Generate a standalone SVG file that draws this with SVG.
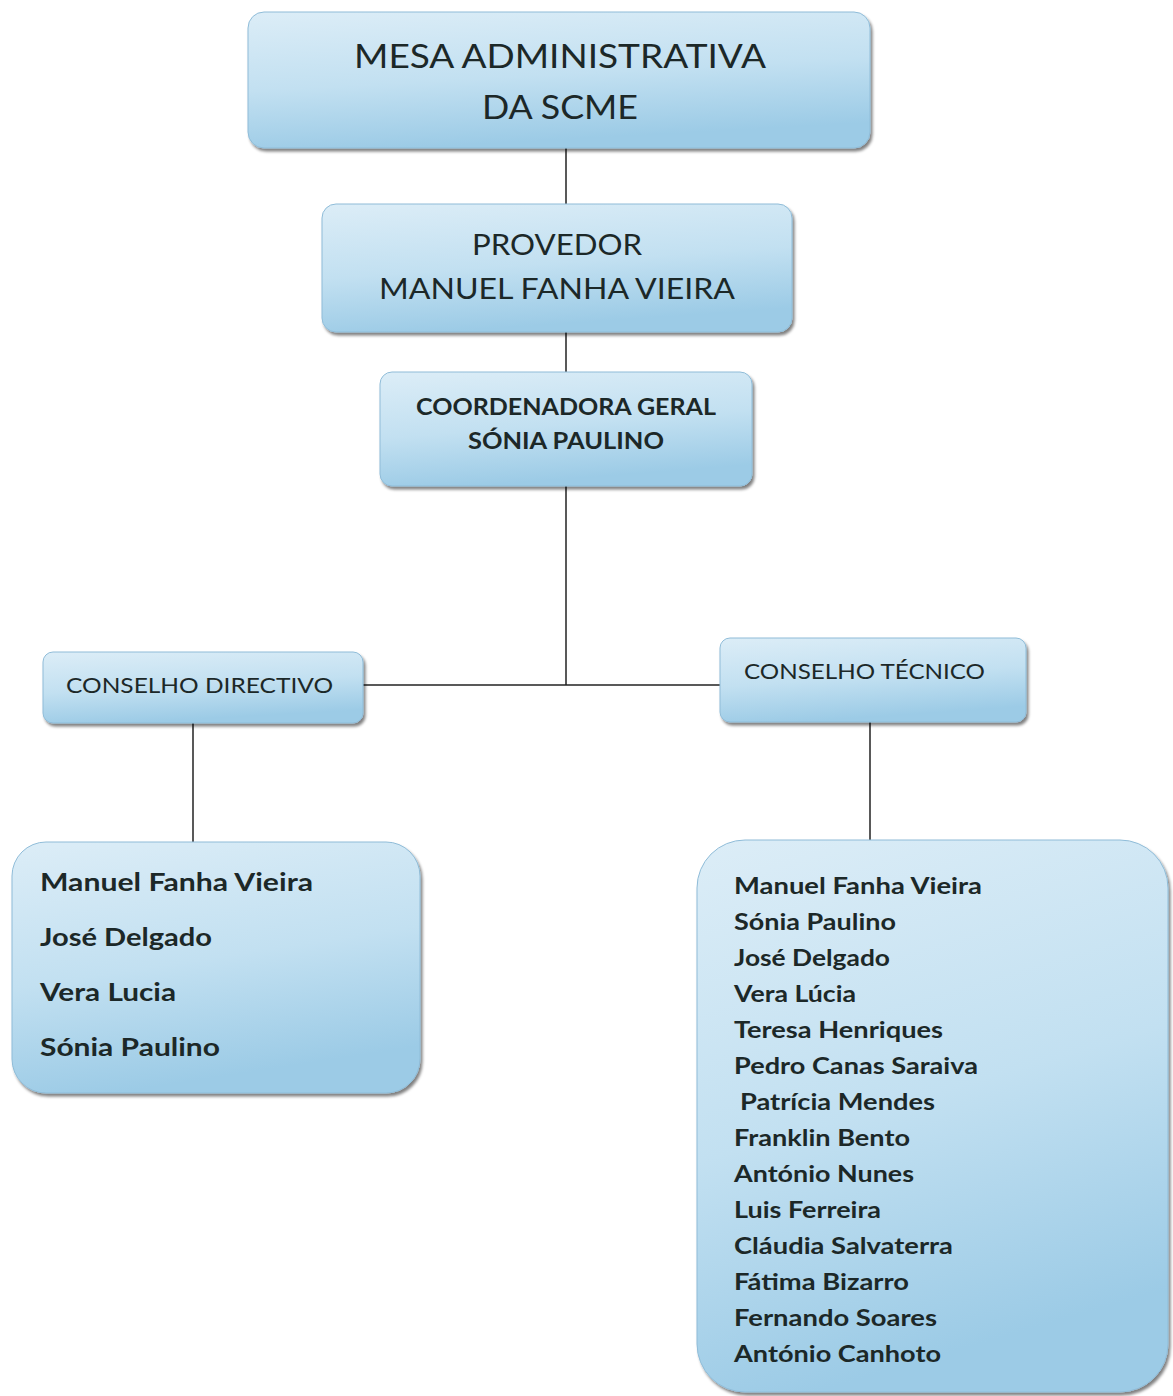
<svg xmlns="http://www.w3.org/2000/svg" width="1173" height="1396" viewBox="0 0 1173 1396">
<defs>
<linearGradient id="g" x1="0" y1="0" x2="0.25" y2="1">
<stop offset="0" stop-color="#dcedf7"/>
<stop offset="0.55" stop-color="#c2e0f1"/>
<stop offset="1" stop-color="#9ccbe6"/>
</linearGradient>
<filter id="sh" x="-5%" y="-5%" width="110%" height="115%">
<feGaussianBlur in="SourceAlpha" stdDeviation="1.5"/>
<feOffset dx="2" dy="3" result="o"/>
<feComponentTransfer><feFuncA type="linear" slope="0.5"/></feComponentTransfer>
<feMerge><feMergeNode/><feMergeNode in="SourceGraphic"/></feMerge>
</filter>
</defs>
<style>
.box{fill:url(#g);stroke:#8fbcd8;stroke-width:1;filter:url(#sh)}
.t{font-family:Lato,"Open Sans","Liberation Sans",sans-serif;fill:#1c2828}
.c{text-anchor:middle}
.b{font-weight:bold}
.ln{stroke:#222;stroke-width:1.5;fill:none}
</style>
<rect width="1173" height="1396" fill="#ffffff"/>
<g id="connectors">
<line class="ln" x1="566" y1="148" x2="566" y2="204"/>
<line class="ln" x1="566" y1="332" x2="566" y2="372"/>
<line class="ln" x1="566" y1="486" x2="566" y2="685"/>
<line class="ln" x1="363" y1="685" x2="720" y2="685"/>
<line class="ln" x1="193" y1="723" x2="193" y2="842"/>
<line class="ln" x1="870" y1="722" x2="870" y2="840"/>
</g>
<g id="mesa">
<rect class="box" x="248" y="12" width="622" height="136" rx="16"/>
<text class="t c" x="560" y="68" font-size="33" textLength="412" lengthAdjust="spacingAndGlyphs">MESA ADMINISTRATIVA</text>
<text class="t c" x="560" y="119" font-size="33" textLength="156" lengthAdjust="spacingAndGlyphs">DA SCME</text>
</g>
<g id="provedor">
<rect class="box" x="322" y="204" width="470" height="128" rx="14"/>
<text class="t c" x="557" y="255" font-size="29" textLength="170" lengthAdjust="spacingAndGlyphs">PROVEDOR</text>
<text class="t c" x="557" y="299" font-size="29" textLength="356" lengthAdjust="spacingAndGlyphs">MANUEL FANHA VIEIRA</text>
</g>
<g id="coordenadora">
<rect class="box" x="380" y="372" width="372" height="114" rx="12"/>
<text class="t c b" x="566" y="415" font-size="22" textLength="300" lengthAdjust="spacingAndGlyphs">COORDENADORA GERAL</text>
<text class="t c b" x="566" y="449" font-size="22" textLength="196" lengthAdjust="spacingAndGlyphs">SÓNIA PAULINO</text>
</g>
<g id="conselho-directivo">
<rect class="box" x="43" y="652" width="320" height="71" rx="10"/>
<text class="t" x="66" y="693" font-size="21" textLength="267" lengthAdjust="spacingAndGlyphs">CONSELHO DIRECTIVO</text>
</g>
<g id="conselho-tecnico">
<rect class="box" x="720" y="638" width="306" height="84" rx="10"/>
<text class="t" x="744" y="679" font-size="21" textLength="241" lengthAdjust="spacingAndGlyphs">CONSELHO TÉCNICO</text>
</g>
<g id="lista-directivo">
<rect class="box" x="12" y="842" width="408" height="251" rx="34"/>
<text class="t b" x="40" y="891" font-size="24" textLength="273" lengthAdjust="spacingAndGlyphs">Manuel Fanha Vieira</text>
<text class="t b" x="40" y="946" font-size="24" textLength="172" lengthAdjust="spacingAndGlyphs">José Delgado</text>
<text class="t b" x="40" y="1001" font-size="24" textLength="136" lengthAdjust="spacingAndGlyphs">Vera Lucia</text>
<text class="t b" x="40" y="1056" font-size="24" textLength="180" lengthAdjust="spacingAndGlyphs">Sónia Paulino</text>
</g>
<g id="lista-tecnico">
<rect class="box" x="697" y="840" width="471" height="552" rx="48"/>
<g class="t b" font-size="22">
<text x="734" y="894" textLength="248" lengthAdjust="spacingAndGlyphs">Manuel Fanha Vieira</text>
<text x="734" y="930" textLength="162" lengthAdjust="spacingAndGlyphs">Sónia Paulino</text>
<text x="734" y="966" textLength="156" lengthAdjust="spacingAndGlyphs">José Delgado</text>
<text x="734" y="1002" textLength="122" lengthAdjust="spacingAndGlyphs">Vera Lúcia</text>
<text x="734" y="1038" textLength="209" lengthAdjust="spacingAndGlyphs">Teresa Henriques</text>
<text x="734" y="1074" textLength="244" lengthAdjust="spacingAndGlyphs">Pedro Canas Saraiva</text>
<text x="740" y="1110" textLength="195" lengthAdjust="spacingAndGlyphs">Patrícia Mendes</text>
<text x="734" y="1146" textLength="176" lengthAdjust="spacingAndGlyphs">Franklin Bento</text>
<text x="734" y="1182" textLength="180" lengthAdjust="spacingAndGlyphs">António Nunes</text>
<text x="734" y="1218" textLength="147" lengthAdjust="spacingAndGlyphs">Luis Ferreira</text>
<text x="734" y="1254" textLength="219" lengthAdjust="spacingAndGlyphs">Cláudia Salvaterra</text>
<text x="734" y="1290" textLength="175" lengthAdjust="spacingAndGlyphs">Fátima Bizarro</text>
<text x="734" y="1326" textLength="203" lengthAdjust="spacingAndGlyphs">Fernando Soares</text>
<text x="734" y="1362" textLength="207" lengthAdjust="spacingAndGlyphs">António Canhoto</text>
</g>
</g>
</svg>
